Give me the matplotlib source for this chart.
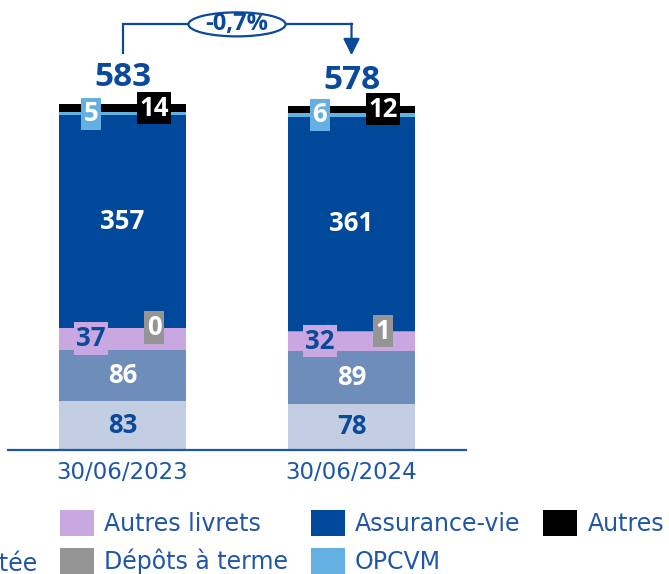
import matplotlib
matplotlib.use("Agg")
import matplotlib.pyplot as plt
from matplotlib.patches import Ellipse

# --- data ---
categories = ["30/06/2023", "30/06/2024"]
series_names = ["Dépôts à vue", "Épargne réglementée", "Autres livrets",
                "Dépôts à terme", "Assurance-vie", "OPCVM", "Autres"]
depots_vue = [83, 78]
epargne_reglementee = [86, 89]
autres_livrets = [37, 32]
depots_terme = [0, 1]
assurance_vie = [357, 361]
opcvm = [5, 6]
autres = [14, 12]
totals = [583, 578]
variation = "-0,7%"

series = [depots_vue, epargne_reglementee, autres_livrets, depots_terme,
          assurance_vie, opcvm, autres]

# --- style ---
colors = ["#c3cee2", "#6e8dba", "#c9a8e2", "#959595", "#00489a", "#64b0e3", "#000000"]
blue_txt = "#0b4a9a"
axis_blue = "#1f56a6"
lab_colors = [blue_txt, "white", blue_txt, "white", "white", "white", "white"]
lab_shift = [0, 0, -0.1376, 0.1376, 0, -0.1376, 0.1376]
lab_box = [False, False, True, True, False, True, True]

plt.rcParams['font.family'] = ['DejaVu Sans']
num_font = dict(family=['Open Sans', 'DejaVu Sans'], weight='bold')

fig = plt.figure(figsize=(6.69, 5.74), dpi=100)
ax = fig.add_axes([8/669, 124/574, 458/669, 450/574])
ax.set_xlim(-0.5, 1.5)
ax.set_ylim(0, 757)

x = [0, 1]
width = 0.555
bottoms = [0, 0]
handles = []
for k, vals in enumerate(series):
    b = ax.bar(x, vals, width, bottom=bottoms, color=colors[k], zorder=2)
    handles.append(b)
    for i in range(2):
        yc = bottoms[i] + vals[i] / 2
        kw = {}
        if lab_box[k]:
            kw['bbox'] = dict(boxstyle='square,pad=0.1', fc=colors[k], ec='none')
        ax.text(x[i] + lab_shift[k], yc, str(vals[i]), ha='center', va='center',
                color=lab_colors[k], fontsize=18.5, zorder=4, **num_font, **kw)
    bottoms = [bottoms[i] + vals[i] for i in range(2)]

# totals
for i in range(2):
    ax.text(x[i], totals[i] + 44, str(totals[i]), ha='center', va='center',
            color=blue_txt, fontsize=24, **num_font)

# variation bracket
y_br = 716
ax.plot([x[0], x[0], x[1]], [668, y_br, y_br], color=blue_txt, lw=1.6,
        solid_joinstyle='miter', clip_on=False, zorder=3)
ax.annotate('', xy=(x[1], 664), xytext=(x[1], y_br + 1.2),
            arrowprops=dict(arrowstyle='-|>,head_length=1.0,head_width=0.5',
                            mutation_scale=10, color=blue_txt, lw=1.6,
                            shrinkA=0, shrinkB=0), annotation_clip=False)
ax.add_patch(Ellipse((0.5, y_br), 0.424, 40.4, fc='white', ec=blue_txt,
                     lw=1.6, zorder=5, clip_on=False))
ax.text(0.5, y_br, variation, ha='center', va='center', color=blue_txt,
        fontsize=17, zorder=6, **num_font)

# axes
for s in ['top', 'right', 'left']:
    ax.spines[s].set_visible(False)
ax.spines['bottom'].set_color(axis_blue)
ax.spines['bottom'].set_linewidth(1.6)
ax.set_yticks([])
ax.set_xticks(x, categories)
ax.tick_params(axis='x', length=0, pad=8, labelsize=16.5, labelcolor=axis_blue)

fs = 17
fpx = fs * 100 / 72
hh = (26 / fpx - 0.245) / 0.65
fig.legend(handles, series_names, ncol=4, loc='lower right',
           bbox_to_anchor=(664/669, -2/574), frameon=False, fontsize=fs,
           labelcolor=axis_blue, handlelength=34/fpx, handleheight=hh,
           handletextpad=10/fpx, columnspacing=23/fpx, labelspacing=0.5,
           borderpad=0, borderaxespad=0)

fig.savefig("out.png", dpi=100)
